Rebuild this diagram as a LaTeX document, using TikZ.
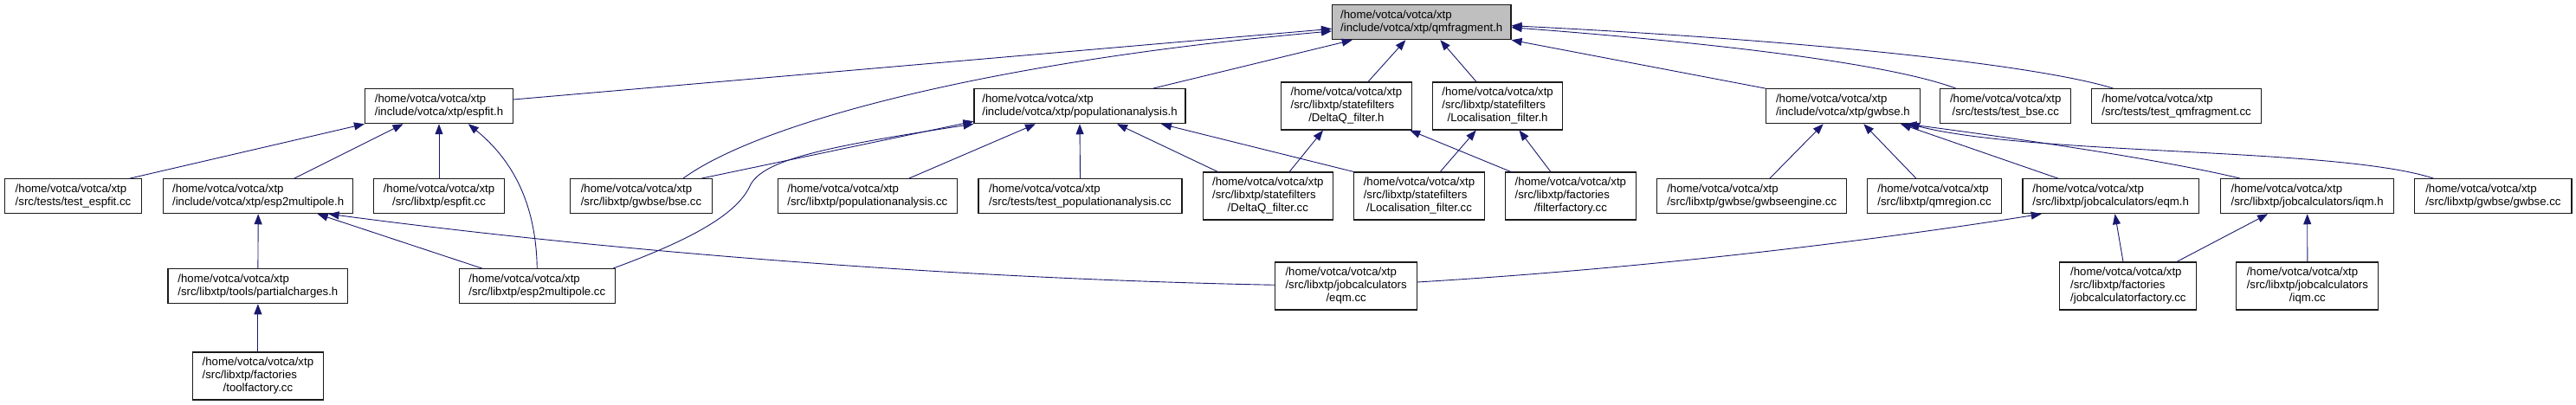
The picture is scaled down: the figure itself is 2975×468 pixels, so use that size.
\documentclass[tikz,border=0pt]{standalone}
\usepackage{fontspec}
\setmainfont{Liberation Sans}
\usetikzlibrary{arrows.meta}
\definecolor{edgecol}{HTML}{191970}
\definecolor{rootfill}{HTML}{BFBFBF}
\definecolor{bordercol}{HTML}{1A1A1A}
\newcommand{\lbtwo}[2]{\begin{tabular}{@{}l@{}}#1\\\multicolumn{1}{@{}c@{}}{#2}\end{tabular}}
\newcommand{\lbthree}[3]{\begin{tabular}{@{}l@{}}#1\\#2\\\multicolumn{1}{@{}c@{}}{#3}\end{tabular}}
\newcommand{\hp}{/home/votca/votca/xtp}
\tikzset{
  nd/.style={draw=bordercol, line width=1.1pt, fill=white, inner sep=0pt,
    minimum height=40pt, font=\fontsize{13.2}{14.8}\selectfont},
  ndt/.style={nd, minimum height=55pt},
  root/.style={nd, fill=rootfill},
  ed/.style={draw=edgecol, line width=0.9pt, -{Triangle[length=12pt,width=9pt]}}
}
\begin{document}
\begin{tikzpicture}[x=1pt,y=-1pt]
\useasboundingbox (0,0) rectangle (2975,468);
% row 1
\node[root, minimum width=206.5pt] (qmf) at (1641.75,25.7) {\lbtwo{\hp}{/include/votca/xtp/qmfragment.h}};
% row 2
\node[nd, minimum width=171pt] (espfith) at (507,122.7) {\lbtwo{\hp}{/include/votca/xtp/espfit.h}};
\node[nd, minimum width=244pt] (popah) at (1247,122.7) {\lbtwo{\hp}{/include/votca/xtp/populationanalysis.h}};
\node[ndt, minimum width=150.5pt] (dqh) at (1554.9,122.5) {\lbthree{\hp}{/src/libxtp/statefilters}{/DeltaQ\_filter.h}};
\node[ndt, minimum width=150.5pt] (loch) at (1729.6,122.5) {\lbthree{\hp}{/src/libxtp/statefilters}{/Localisation\_filter.h}};
\node[nd, minimum width=178pt] (gwbseh) at (2128.4,122.7) {\lbtwo{\hp}{/include/votca/xtp/gwbse.h}};
\node[nd, minimum width=150.6pt] (testbse) at (2316.2,122.7) {\lbtwo{\hp}{/src/tests/test\_bse.cc}};
\node[nd, minimum width=195.8pt] (testqmf) at (2513.6,122.7) {\lbtwo{\hp}{/src/tests/test\_qmfragment.cc}};
% row 3
\node[nd, minimum width=158.8pt] (testespfit) at (84.5,226.7) {\lbtwo{\hp}{/src/tests/test\_espfit.cc}};
\node[nd, minimum width=218.7pt] (esp2h) at (298.2,226.7) {\lbtwo{\hp}{/include/votca/xtp/esp2multipole.h}};
\node[nd, minimum width=150.5pt] (espfitcc) at (507,226.7) {\lbtwo{\hp}{/src/libxtp/espfit.cc}};
\node[nd, minimum width=163.3pt] (bsecc) at (740.5,226.7) {\lbtwo{\hp}{/src/libxtp/gwbse/bse.cc}};
\node[nd, minimum width=206.6pt] (popacc) at (1001.9,226.7) {\lbtwo{\hp}{/src/libxtp/populationanalysis.cc}};
\node[nd, minimum width=235pt] (testpopa) at (1247.5,226.7) {\lbtwo{\hp}{/src/tests/test\_populationanalysis.cc}};
\node[ndt, minimum width=150.5pt] (dqcc) at (1464.3,226.5) {\lbthree{\hp}{/src/libxtp/statefilters}{/DeltaQ\_filter.cc}};
\node[ndt, minimum width=150.5pt] (loccc) at (1639,226.5) {\lbthree{\hp}{/src/libxtp/statefilters}{/Localisation\_filter.cc}};
\node[ndt, minimum width=150.5pt] (filtfac) at (1813.8,226.5) {\lbthree{\hp}{/src/libxtp/factories}{/filterfactory.cc}};
\node[nd, minimum width=218.6pt] (gwbseeng) at (2023.2,226.7) {\lbtwo{\hp}{/src/libxtp/gwbse/gwbseengine.cc}};
\node[nd, minimum width=154.3pt] (qmreg) at (2234,226.7) {\lbtwo{\hp}{/src/libxtp/qmregion.cc}};
\node[nd, minimum width=203.4pt] (eqmh) at (2437.7,226.7) {\lbtwo{\hp}{/src/libxtp/jobcalculators/eqm.h}};
\node[nd, minimum width=199.6pt] (iqmh) at (2664.7,226.7) {\lbtwo{\hp}{/src/libxtp/jobcalculators/iqm.h}};
\node[nd, minimum width=181.1pt] (gwbsecc) at (2879.4,226.7) {\lbtwo{\hp}{/src/libxtp/gwbse/gwbse.cc}};
% row 4
\node[nd, minimum width=207.9pt] (partial) at (297.9,330.7) {\lbtwo{\hp}{/src/libxtp/tools/partialcharges.h}};
\node[nd, minimum width=180.5pt] (esp2cc) at (620.3,330.7) {\lbtwo{\hp}{/src/libxtp/esp2multipole.cc}};
\node[ndt, minimum width=163.9pt] (eqmcc) at (1554.6,330.5) {\lbthree{\hp}{/src/libxtp/jobcalculators}{/eqm.cc}};
\node[ndt, minimum width=158.2pt] (jcfac) at (2457.8,330.5) {\lbthree{\hp}{/src/libxtp/factories}{/jobcalculatorfactory.cc}};
\node[ndt, minimum width=163.9pt] (iqmcc) at (2664.8,330.5) {\lbthree{\hp}{/src/libxtp/jobcalculators}{/iqm.cc}};
% row 5
\node[ndt, minimum width=150.5pt] (toolfac) at (297.9,434.5) {\lbthree{\hp}{/src/libxtp/factories}{/toolfactory.cc}};
% edges into espfit.h
\draw[ed] ([xshift=65.4pt]testespfit.north) -- (espfith.south west);
\draw[ed] ([xshift=41.7pt]esp2h.north) -- ([xshift=-41.4pt]espfith.south);
\draw[ed] (espfitcc.north) -- (espfith.south);
\draw[ed] (esp2cc.north) .. controls (619,235) and (592,185) .. ([xshift=33.8pt]espfith.south);
% edges into qmfragment.h
\draw[ed] ([yshift=7.7pt]espfith.east) -- ([yshift=-7.6pt]qmf.west);
\draw[ed] ([xshift=48.4pt]bsecc.north) .. controls (880,140) and (1150,70) .. ([yshift=-10.3pt]qmf.west);
\draw[ed] ([xshift=84.6pt]popah.north) -- ([xshift=-80pt]qmf.south);
\draw[ed] ([xshift=25.1pt]dqh.north) -- ([xshift=-18.4pt]qmf.south);
\draw[ed] ([xshift=-24.6pt]loch.north) -- ([xshift=21.6pt]qmf.south);
\draw[ed] (gwbseh.north west) -- (qmf.south east);
\draw[ed] ([xshift=-57.4pt]testbse.north) .. controls (2200,80) and (2050,55) .. ([yshift=-6pt]qmf.east);
\draw[ed] ([xshift=-73pt]testqmf.north) .. controls (2370,80) and (2150,50) .. ([yshift=-4pt]qmf.east);
% edges into populationanalysis.h
\draw[ed] ([xshift=69.5pt]bsecc.north) -- ([yshift=3pt]popah.south west);
\draw[ed] ([xshift=87.6pt]esp2cc.north) .. controls (790,280) and (850,250) .. (866,215) .. controls (880,185) and (950,170) .. (popah.south west);
\draw[ed] ([xshift=47.8pt]popacc.north) -- ([xshift=-51pt]popah.south);
\draw[ed] (testpopa.north) -- (popah.south);
\draw[ed] ([xshift=-58pt]dqcc.north) -- ([xshift=43pt]popah.south);
\draw[ed] (loccc.north west) -- ([xshift=94pt]popah.south);
% edges into filter headers
\draw[ed] ([xshift=24.9pt]dqcc.north) -- ([xshift=-26.9pt]dqh.south);
\draw[ed] ([xshift=-68.9pt]filtfac.north) -- ([xshift=73.3pt]dqh.south);
\draw[ed] ([xshift=24.3pt]loccc.north) -- ([xshift=-24.9pt]loch.south);
\draw[ed] ([xshift=-23pt]filtfac.north) -- ([xshift=24.9pt]loch.south);
% edges into esp2multipole.h and partialcharges.h
\draw[ed] (partial.north) -- (esp2h.south);
\draw[ed] ([xshift=-63.5pt]esp2cc.north) -- ([xshift=68.5pt]esp2h.south);
\draw[ed] ([yshift=1.2pt]eqmcc.west) .. controls (1100,322) and (700,290) .. ([xshift=81.3pt]esp2h.south);
\draw[ed] (toolfac.north) -- (partial.south);
% edges into gwbse.h
\draw[ed] ([xshift=20.7pt]gwbseeng.north) -- ([xshift=-22.7pt]gwbseh.south);
\draw[ed] ([xshift=-21.1pt]qmreg.north) -- ([xshift=23.9pt]gwbseh.south);
\draw[ed] ([xshift=-60.9pt]eqmh.north) -- ([xshift=66.6pt]gwbseh.south);
\draw[ed] ([xshift=-77.5pt]iqmh.north) .. controls (2500,185) and (2330,160) .. ([xshift=73pt]gwbseh.south);
\draw[ed] ([xshift=-68.9pt]gwbsecc.north) .. controls (2700,170) and (2350,180) .. ([xshift=76.2pt]gwbseh.south);
% edges into eqm.h and iqm.h
\draw[ed] ([xshift=-5.8pt]jcfac.north) -- ([xshift=4.8pt]eqmh.south);
\draw[ed] ([xshift=56.1pt]jcfac.north) -- ([xshift=-45.6pt]iqmh.south);
\draw[ed] (iqmcc.north) -- (iqmh.south);
\draw[ed] ([yshift=4.5pt]eqmcc.east) .. controls (1900,310) and (2150,280) .. ([xshift=-80pt]eqmh.south);
\end{tikzpicture}
\end{document}
